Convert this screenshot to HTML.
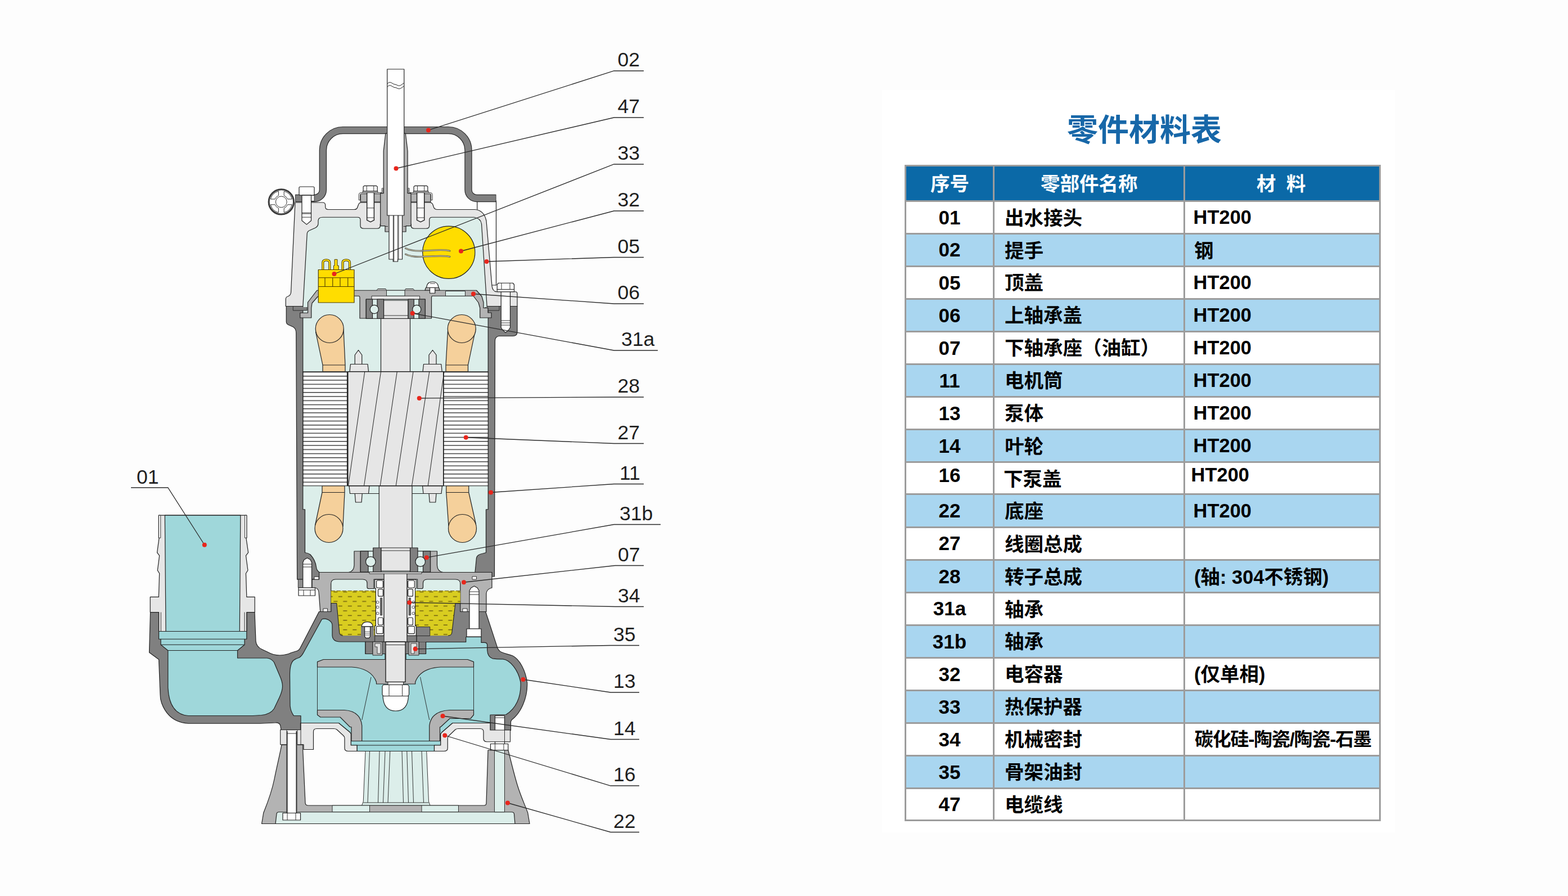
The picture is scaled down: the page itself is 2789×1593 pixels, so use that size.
<!DOCTYPE html>
<html lang="zh"><head><meta charset="utf-8"><title>零件材料表</title>
<style>

html,body{margin:0;padding:0;background:#fdfdfd}
body{width:2789px;height:1593px;position:relative;overflow:hidden;font-family:"Liberation Sans",sans-serif}
#page{position:absolute;left:0;top:0;width:2789px;height:1593px;overflow:hidden;background:#fdfdfd}
#panel{position:absolute;left:1569px;top:160px;width:912px;height:1320px;background:#fff}
#tbl .bg{position:absolute}
.cj{position:absolute;overflow:visible;font-family:"Liberation Sans","Noto Sans CJK SC",sans-serif;font-weight:bold}
.cj text{font-family:"Liberation Sans","Noto Sans CJK SC",sans-serif;font-weight:bold}
.rt{position:absolute;color:transparent;white-space:nowrap;overflow:hidden;font-weight:bold;line-height:1.2;box-sizing:content-box}
.num{position:absolute;text-align:center;font-weight:bold;font-size:35px;color:#000;white-space:nowrap}
.mat{position:absolute;font-weight:bold;font-size:34.5px;color:#000;white-space:nowrap}
#dia{position:absolute;left:0;top:0}
#dia text{font-family:"Liberation Sans",sans-serif;font-size:35.5px;fill:#1f1f1f}

</style></head><body><div id="page">
<div id="panel"></div>
<svg id="dia" width="2789" height="1593" viewBox="0 0 2789 1593">
<defs>
<pattern id="lam" x="0" y="660.75" width="10" height="7.25" patternUnits="userSpaceOnUse"><rect width="10" height="7.25" fill="#fff"/><rect width="10" height="1.4" fill="#333"/></pattern>
<pattern id="oil" x="635.8" y="1056.6" width="17" height="16.8" patternUnits="userSpaceOnUse"><rect width="17" height="16.8" fill="#d9cd20"/><rect x="0" y="3.5" width="7" height="1.4" fill="#6b5a10"/><rect x="8.5" y="11.9" width="7" height="1.4" fill="#6b5a10"/></pattern>
</defs>
<g id="pump" stroke="#222" stroke-width="1.2" stroke-linejoin="round" fill="none">
<g id="handle">
<rect x="848.75" y="357" width="33.75" height="150" fill="#fff"/>
<path d="M525,352.5 H559.4 A15,15 0 0 0 574.4,337.5 V267 A35.5,35.5 0 0 1 610,231.6 H797.5 A35.5,35.5 0 0 1 833,267 V337.5 A15,15 0 0 0 848,352.5 H882.5" stroke="#2a2a2a" stroke-width="13.4" fill="none"/>
<path d="M525.8,352.5 H559.4 A15,15 0 0 0 574.4,337.5 V267 A35.5,35.5 0 0 1 610,231.6 H797.5 A35.5,35.5 0 0 1 833,267 V337.5 A15,15 0 0 0 848,352.5 H881.7" stroke="#808080" stroke-width="11" fill="none"/>
<g id="ring">
<circle cx="500.3" cy="358.9" r="22.2" fill="#fff" stroke="#3a3a3a" stroke-width="3"/>
<path d="M511.58,363.80 L519.28,363.80 A19.6,19.6 0 0 1 505.20,377.88 L505.20,370.18 A12.3,12.3 0 0 0 511.58,363.80 Z M495.40,370.18 L495.40,377.88 A19.6,19.6 0 0 1 481.32,363.80 L489.02,363.80 A12.3,12.3 0 0 0 495.40,370.18 Z M489.02,354.00 L481.32,354.00 A19.6,19.6 0 0 1 495.40,339.92 L495.40,347.62 A12.3,12.3 0 0 0 489.02,354.00 Z M505.20,347.62 L505.20,339.92 A19.6,19.6 0 0 1 519.28,354.00 L511.58,354.00 A12.3,12.3 0 0 0 505.20,347.62 Z" fill="#fff" stroke="#333" stroke-width="1"/>
<circle cx="500.3" cy="358.9" r="9.9" fill="#fff" stroke="#333" stroke-width="1"/>
</g>
</g>

<g id="casing">
<!-- side bolt (cover->casing, right) shank drawn later -->
<!-- dark gray casing outer -->
<path fill="#808080" d="M509.25,544.5 V572 Q509.5,576 513,577.5 L521,581 Q526.75,584 526.75,592.5 L528.6,1030.1 H567.6 V1017.5 H845 V1025 H879.5 L880.5,606 Q880.5,599 887,597.5 H912 Q920,597.5 920,590 V544.5 Z"/>
<!-- inner cavity mint -->
<path fill="#dceeea" stroke="none" d="M538.75,540 H868.25 V905.75 H864.5 V982.5 L860,983.75 Q848,986 847.5,992 L845,1017.5 H568 Q563,1014 562.5,1008 Q561,996 552,986 Q548,983 542.5,982.5 V905.75 H538.75 Z"/>
<path d="M868.25,552 V905.75 H864.5 V982.5 L860,983.75 Q848,986 847.5,992 L845,1017.5 M568,1017.5 Q563,1014 562.5,1008 Q561,996 552,986 Q548,983 542.5,982.5 V905.75 H538.75 V552"/>
<path fill="#8f8f8f" d="M530.3,1030.1 H538.6 V1044.8 H530.3 Z" stroke-width="0.9"/>
<!-- gasket / step details at top flange -->
<path fill="#808080" d="M521.25,544.5 H546 V552 H521.25 Z M863,544.5 H888 V552 H863 Z" stroke-width="0.9"/>
</g>

<g id="cover">
<!-- outer silhouette of top cover 05 -->
<path fill="#e6e6e6" d="M525,360 H573.75 Q578.75,360 578.75,365 V367.5 Q578.75,372.5 583.75,372.5 H630 Q635,372.5 636,368 L637.5,364 Q638.75,360 643,360 H764 Q768.75,360 770,364 L771.5,368.5 Q773,372.5 778,372.5 H845 Q861,374 865,392.5 L875,508 Q876,518.75 884,518.75 H917 Q920,518.75 920,522 V544.5 H508.25 V532 Q508.25,528 512,527 Q517,525 517.5,520 Z"/>
<!-- inner cavity -->
<path fill="#dceeea" stroke="none" d="M574,386.25 H636 Q641,386.25 641,391 V401 Q641,406.25 647,406.25 H671 Q676.25,406.25 676.25,401 V398 H731.25 V401 Q731.25,406.25 737,406.25 H758 Q763.75,406.25 763.75,401 V391 Q763.75,386.25 769,386.25 H843 Q855,388 856.5,398 L866.25,546 H538.75 L546.25,415 Q547,411 551,409.5 L561,405 Q566,402.5 566,397 V392 Q566.5,386.25 574,386.25 Z"/>
<path d="M866.25,546 L856.5,398 Q855,388 843,386.25 H769 Q763.75,386.25 763.75,391 V401 Q763.75,406.25 758,406.25 H737 Q731.25,406.25 731.25,401 V398 M676.25,398 V401 Q676.25,406.25 671,406.25 H647 Q641,406.25 641,401 V391 Q641,386.25 636,386.25 H574 Q566.5,386.25 566,392 V397 Q566,402.5 561,405 L551,409.5 Q547,411 546.25,415 L538.75,546"/>
<!-- left corner bolt -->
<rect x="553.5" y="347.2" width="5.6" height="10.3" fill="#fff" stroke-width="0.9"/>
<rect x="532" y="332" width="27" height="15.2" rx="2" fill="#fff"/>
<path fill="#fff" d="M537,347.2 H553.5 V392.2 L545.4,399.1 L537,392.2 Z"/>
<path d="M537,378.4 H553.5 M537,380 H553.5 M537,386.2 H553.5" stroke-width="0.9"/>
<!-- gland flange plates + bolts -->
<path fill="#b3b3b3" d="M641.3,343.6 H682.2 V359.1 H641.3 Z M725.1,343.6 H766 V359.1 H725.1 Z"/>
<!-- thin lock bracket -->
<path fill="#fff" d="M638.2,355.7 V346.5 Q638.2,342.5 642,342.5 H679.3 V334.8 H682.2 V336.6 H681.2 V344.6 H642.5 Q640.6,344.6 640.6,346.8 V355.7 Z" stroke-width="0.9"/>
<path fill="#fff" d="M769.1,355.7 V346.5 Q769.1,342.5 765.3,342.5 H728 V334.8 H725.1 V336.6 H726.1 V344.6 H764.8 Q766.7,344.6 766.7,346.8 V355.7 Z" stroke-width="0.9"/>
<!-- left gland bolt -->
<path fill="#fff" d="M652.7,342.2 H665.4 V391.4 L659,394.6 L652.7,391.4 Z" stroke-width="1.5"/>
<path d="M652.7,369.8 H665.4 M652.7,387 H665.4" stroke-width="0.9"/>
<rect x="645.1" y="339.9" width="26.8" height="2.4" fill="#fff" stroke-width="0.9"/>
<path fill="#fff" d="M646.1,339.9 V332 L647.8,330.3 H669.5 L671.2,332 V339.9 Z"/>
<path d="M652.3,330.3 V339.9 M664.8,330.3 V339.9" stroke-width="0.9"/>
<!-- right gland bolt -->
<path fill="#fff" d="M741.6,342.2 H754.7 V391.4 L748.1,394.6 L741.6,391.4 Z" stroke-width="1.5"/>
<path d="M741.6,369.8 H754.7 M741.6,387 H754.7" stroke-width="0.9"/>
<rect x="735.3" y="339.9" width="26.8" height="2.4" fill="#fff" stroke-width="0.9"/>
<path fill="#fff" d="M736.1,339.9 V332 L737.8,330.3 H759.1 L760.8,332 V339.9 Z"/>
<path d="M742.4,330.3 V339.9 M754.6,330.3 V339.9" stroke-width="0.9"/>
<!-- gland body -->
<path fill="#b3b3b3" d="M685.8,237.2 L682.2,268.5 V343.6 H676.7 V401.7 H685 V412 H722 V401.7 H731 V343.6 H725.1 V268.5 L721.3,237.2 Z"/>
<path d="M685,402.5 H690 M717.5,402.5 H722.5" stroke-width="0.9"/>
</g>

<g id="cable">
<!-- inner conductors -->
<path fill="#fff" d="M692,382 H715.5 V461 H707.5 V465 H699.25 V461 H692 Z"/>
<path d="M699.4,382 V461 M700.7,382 V465 M707.6,382 V465 M709,382 V461" stroke-width="0.9"/>
<rect x="688.75" y="123" width="30" height="260" fill="#fff"/>
<path d="M688.75,149 q4,-4.5 8,-1.5 t8,3 q5,3.5 9,0.5 t5,-3.5 M688.75,154.5 q4,-4.5 8,-1.5 t8,3 q5,3.5 9,0.5 t5,-3.5" stroke-width="1"/>
</g>

<g id="motor">
<!-- coils top -->
<path fill="#f5d09b" d="M561.5,590 L574,649 V660.75 H614 V649 L611,585 Z"/>
<path d="M574,649 H614" stroke-width="1"/>
<circle cx="586.25" cy="584.5" r="25" fill="#f5d09b"/>
<path fill="#f5d09b" d="M796.5,588 L793,649 V660.75 H832.5 V649 L846,585 Z"/>
<path d="M793,649 H832.5" stroke-width="1"/>
<circle cx="821.25" cy="584.5" r="25" fill="#f5d09b"/>
<!-- coils bottom -->
<path fill="#f5d09b" d="M573,863.75 H613 V875.5 L610,936 L560.5,934 L573,875.5 Z"/>
<path d="M573,875.5 H613" stroke-width="1"/>
<circle cx="585" cy="939.5" r="25" fill="#f5d09b"/>
<path fill="#f5d09b" d="M793.75,863.75 H833.75 V875.5 L846.5,932 L798,936 L793.75,875.5 Z"/>
<path d="M793.75,875.5 H833.75" stroke-width="1"/>
<circle cx="822.5" cy="939.5" r="25" fill="#f5d09b"/>
<!-- stator laminations -->
<rect x="539" y="660.75" width="78.5" height="203" fill="url(#lam)"/>
<rect x="789" y="660.75" width="79.25" height="203" fill="url(#lam)"/>
<!-- shaft upper / lower -->
<rect x="677.5" y="566" width="52" height="95" fill="#e6e6e6"/>
<rect x="674.25" y="863.75" width="58.75" height="111" fill="#e6e6e6"/>
<!-- end rings + pins top -->
<path fill="#e6e6e6" d="M631.25,647.5 V631 L637.5,622.5 L643.75,631 V647.5 Z M763,647.5 V631 L769.5,622.5 L776,631 V647.5 Z"/>
<path fill="#e6e6e6" d="M622,660.75 L623.5,647.5 H654 L655.5,660.75 Z M752,660.75 L753.5,647.5 H784.75 L786.25,660.75 Z"/>
<!-- end rings + pins bottom -->
<path fill="#e6e6e6" d="M631.25,877.5 H644.25 L643,893 H632.5 Z M763,877.5 H776 L774.75,893 H764.25 Z"/>
<path fill="#e6e6e6" d="M621,863.75 H657 L655.5,877.5 H622.5 Z M751.5,863.75 H786.5 L785,877.5 H753 Z"/>
<path d="M655.5,877.5 H674.25 M733,877.5 H753" stroke-width="1"/>
<!-- rotor -->
<rect x="618.75" y="660.75" width="170" height="203" fill="#e6e6e6" stroke-width="1.5"/>
<path d="M648.75,660.75 L619.5,863.75 M677.5,660.75 L647.5,863.75 M706.25,660.75 L676.25,863.75 M735,660.75 L704.25,863.75 M763.75,660.75 L732.5,863.75 M790,660.75 L761.25,863.75" stroke-width="1"/>
</g>

<g id="upper">
<!-- capacitor 32 -->
<circle cx="798.25" cy="448.75" r="46.6" fill="#ffdd00"/>
<path d="M721.5,441.5 C730,446 740,446.6 752,446 S790,443 800,446 M721.5,452 C730,456.5 740,457 752,456.4 S790,453.4 800,456.4" stroke="#444" stroke-width="2.8" stroke-linecap="round"/>
<path d="M721.5,441.5 C730,446 740,446.6 752,446 S790,443 800,446 M721.5,452 C730,456.5 740,457 752,456.4 S790,453.4 800,456.4" stroke="#d9d3b0" stroke-width="1.2" stroke-linecap="round"/>
<!-- 06 upper bearing cover plate -->
<path fill="#b3b3b3" d="M563.75,516.25 H847.5 L857,527 L860,537.5 V547.5 H868 V556 H874 V565 H853.75 V547.5 L851,538 L842,526.25 H769 Q767.5,526.25 767.5,530 V566 H640 V530 Q640,526.25 638,526.25 H571 L565,527.5 L555,539 L553.75,547.5 V565 H533.75 V556.25 H547.5 V537.5 Z"/>
<!-- holes in plate -->
<rect x="687.5" y="516.25" width="32.5" height="10" fill="#dceeea" stroke-width="0.9"/>
<rect x="792.5" y="517.5" width="35" height="8.75" fill="#dceeea" stroke-width="0.9"/>
<path fill="#b3b3b3" d="M670,516.25 L672,513.5 H686 L687.5,516.25 M720,516.25 L721.5,513.5 H735 L737,516.25" stroke-width="0.9"/>
<!-- screw on plate -->
<path fill="#b3b3b3" d="M756,516.25 Q757,509 762,509 H776 Q781,509 782,516.25 Z"/>
<rect x="764.5" y="511.25" width="9.25" height="10" fill="#fff"/>
<path fill="#fff" d="M758.75,511.25 Q759.5,501 769.4,501 Q779.3,501 780,511.25 Z"/>
<path d="M765,504 H774" stroke-width="0.9"/>
<!-- thermal protector 33 -->
<path d="M574.3,479.5 V467 Q574.3,462.3 580.3,462.3 Q586.3,462.3 586.3,467 V479.5 M609.5,479.5 V467 Q609.5,462.3 615.7,462.3 Q622,462.3 622,467 V479.5" fill="none" stroke="#4a3a00" stroke-width="4.2"/>
<path d="M574.3,479.5 V467 Q574.3,462.3 580.3,462.3 Q586.3,462.3 586.3,467 V479.5 M609.5,479.5 V467 Q609.5,462.3 615.7,462.3 Q622,462.3 622,467 V479.5" fill="none" stroke="#ffdd00" stroke-width="2.2"/>
<path fill="#ffdd00" d="M593.5,479.5 V472.2 H595.1 V461.3 H600 V472.2 H602.3 V479.5 Z" stroke="#4a3a00" stroke-width="1"/>
<rect x="566.25" y="479.5" width="63.75" height="58.5" fill="#ffdd00" stroke="#4a3a00"/>
<path d="M566.25,493.75 H630 M566.25,509.5 H630 M578,493.75 V509.5 M591.75,493.75 V509.5 M605,493.75 V509.5 M618.75,493.75 V509.5" stroke="#4a3a00" stroke-width="1.1"/>
<!-- bearing -->
<rect x="651.25" y="532" width="105" height="34.25" fill="#dceeea"/>
<path fill="#e6e6e6" d="M661,526.25 H746.5 V532 H661 Z" stroke-width="0.9"/>
<rect x="682.5" y="534" width="43.5" height="32.25" fill="#e6e6e6"/>
<path fill="#808080" d="M651.25,532 H662.5 V566.25 H651.25 Z M671,532 H682.5 V566.25 H671 Z M726,532 H736.25 V566.25 H726 Z M745,532 H756.25 V566.25 H745 Z"/>
<circle cx="665.75" cy="550" r="7.6" fill="#dceeea"/>
<circle cx="741.25" cy="550" r="7.6" fill="#dceeea"/>
<path d="M682.5,561 H726" stroke-width="0.9"/>
<!-- right side bolt -->
<path fill="#fff" d="M891.25,518.75 H907.5 V582.5 L904,587.5 L899.25,591.25 L894.75,587.5 L891.25,582.5 Z"/>
<path d="M891.25,570 H907.5 M891.25,574 H907.5 M891.25,578 H907.5" stroke-width="0.9"/>
<rect x="884.25" y="514.5" width="30.25" height="4.25" fill="#fff"/>
<path fill="#fff" d="M884.25,514.5 V506 L886.5,503.25 H912.25 L914.5,506 V514.5 Z"/>
<path d="M892,503.25 V514.5 M907,503.25 V514.5" stroke-width="0.9"/>
</g>

<g id="body">
<!-- pump body 13 + elbow, dark gray silhouette -->
<path fill="#808080" d="M567.5,1087.5 H585 V1072.5 H822.5 V1087.5 H863.75 L884.9,1151.9 Q887.5,1157.5 892,1159.5 C900,1163 905,1163 912,1166 C924,1172 935,1192 937.7,1214 C938.5,1242 926,1268 910,1280 L908.5,1283 V1298.5 H872 V1285.5 H534.5 V1297.5 H500 L498.75,1290 Q497,1284.5 490,1285 L462.5,1286.25 H335 Q300,1284 287.5,1250 Q285,1243 285,1235 L282.5,1172.5 L265.5,1160 L267.5,1088.75 H453 L455,1140 Q456,1150 466,1154.5 L475,1158.75 Q486,1165 497.5,1165 Q509,1165 518,1160.5 L526,1158 Q531.5,1157 534,1152 Z"/>
<!-- elbow interior -->
<path fill="#9fd7da" d="M282.5,1088.75 H438.75 V1136.25 H435 V1146.25 L422.5,1156.5 V1170 H475 Q483,1171 487.5,1177.5 L497,1200 Q502.5,1212 502.5,1220 Q502.5,1228 497,1240 L487.5,1260 Q481,1270 465,1271.5 L450,1272.5 H335 Q301,1270 298.75,1222.5 V1156.5 L286,1146.25 V1136.25 H282.5 Z"/>
<path d="M282.5,1122.5 H438.75 M286,1136.25 H435 M286,1146.25 H435 M298.75,1156.5 H422.5" stroke-width="1"/>
<!-- body interior water -->
<path fill="#9fd7da" d="M572.5,1101 Q580,1098.5 587,1104 Q591,1107 591,1112 V1130 Q592,1141 605,1141 H650 V1162.5 H757.5 V1141.5 H828.75 V1132.5 H856 V1142.4 H861.5 Q866.7,1142.4 866.7,1147 V1156 Q867.5,1168 876,1170.8 Q884,1172 894.4,1171.8 C907,1173 922,1191 926,1213 C927.5,1240 917,1260 900,1270.5 L872,1271 V1285.5 H805 L786,1302 L783.75,1305 V1325 H772.5 V1335.5 H635 V1325 H624.25 V1305 L622.5,1302 L602.5,1285.5 H535 V1272.5 H522.5 Q517,1265 516,1255 L515.5,1200 Q515.5,1180 522,1174 Q527,1170.5 532.5,1169 Q537,1166 540,1160 Z"/>
<path d="M624.25,1317.5 H783.75 M635,1325 H772.5" stroke-width="1"/>
<!-- seal housing dark gray -->
<path fill="#808080" d="M650,1141 H757.5 V1162.5 H745 V1141 H742 V1115 H762.5 V1130 H757.5 V1141 M650,1141 V1162.5 H663 V1141 Z"/>
<path fill="#808080" d="M742,1115 H762.5 V1141 H742 Z" stroke="none"/>
<!-- lip seal 35 -->
<path fill="#b3b3b3" d="M663,1141 H680 V1165 H663 Z M727,1141 H745 V1165 H727 Z" stroke-width="0.9"/>
<path fill="#e6e6e6" d="M667,1144 H677 V1162 H671 V1150 H667 Z M731,1144 H741 V1150 H737 V1162 H731 Z" stroke-width="0.8"/>
<!-- right bolt block -->
<rect x="880.5" y="1272.5" width="17" height="50" fill="#fff"/>
<path d="M880.5,1276 H897.5" stroke-width="0.9"/>
</g>

<g id="lower">
<!-- 07 lower bearing seat (medium gray) -->
<path fill="#b3b3b3" d="M567.6,1017.5 H875 V1045 Q866,1047 865,1055 V1087.5 H818.75 V1072.5 H588.75 V1087.5 H569.7 L567.3,1056 Q567,1046 561,1045 H555 V1030.1 H567.6 Z"/>
<!-- bearing housing -->
<path fill="#b3b3b3" d="M630,980 H777.5 V1005 Q778,1016 788,1017.5 H620 Q629.5,1016 630,1005 Z"/>
<!-- oil chamber cavity: mint top + oil -->
<path fill="#dceeea" d="M588.75,1072.5 V1038 Q588.75,1030 597,1030 H645 Q653,1030 653,1037 V1044 Q653,1046.5 656,1046.5 H665 V1030 H742.5 V1046.5 H750 Q752.5,1046.5 752.5,1044 V1037 Q752.5,1030 760,1030 H810 Q818.75,1030 818.75,1038 V1072.5 Z"/>
<path fill="url(#oil)" stroke="none" d="M588.75,1050.5 H818.75 V1072.5 H810 L803.75,1125 Q803,1130 797,1130 H610 Q604.5,1130 603.75,1125 L598.75,1072.5 H588.75 Z"/>
<path d="M588.75,1050.5 H667 M741,1050.5 H818.75" stroke="#6b5a10" stroke-dasharray="7 3" stroke-width="1.2"/>
<path d="M588.75,1072.5 H598.75 L603.75,1125 Q604.5,1130 610,1130 M818.75,1072.5 H810 L803.75,1125 Q803,1130 797,1130" stroke-width="1.1"/>
<!-- dark boss right & bottom under seal -->
<path fill="#808080" d="M740.8,1114.5 H764.7 V1130.5 H740.8 Z M666.7,1130 H740.8 V1141 H666.7 Z" stroke-width="0.9"/>
<!-- plug screw -->
<path fill="#808080" stroke="none" d="M642,1113 H665 V1131 H642 Z"/>
<path fill="#fff" d="M648.6,1113.9 H658.5 V1131.4 L656.5,1134.3 H650.6 L648.6,1131.4 Z"/>
<path d="M648.6,1123 H658.5 M648.6,1126 H658.5 M648.6,1129 H658.5" stroke-width="0.7"/>
<path fill="#fff" d="M643.3,1113.9 Q644,1105.7 653.2,1105.7 Q662.5,1105.7 663.2,1113.9 Z"/>
<!-- mechanical seal 34 -->
<g id="mseal">
<path fill="#fff" d="M666.7,1030.4 H683 V1130.2 H666.7 V1112.7 H668.4 V1046.2 H666.7 Z"/>
<rect x="669.6" y="1032" width="11.7" height="13" rx="2" fill="#fff"/>
<rect x="672.5" y="1047.4" width="8.8" height="12.8" rx="2" fill="#fff"/>
<rect x="672.5" y="1098" width="8.8" height="13" rx="2" fill="#fff"/>
<rect x="669.6" y="1113.3" width="11.7" height="13.4" rx="2" fill="#fff"/>
<rect x="676.3" y="1063" width="3.6" height="31" fill="#666" stroke-width="0.6"/>
<circle cx="671.6" cy="1070.7" r="2.3" fill="#fff" stroke-width="0.8"/><circle cx="671.6" cy="1079.5" r="2.3" fill="#fff" stroke-width="0.8"/><circle cx="671.6" cy="1090.5" r="2.3" fill="#fff" stroke-width="0.8"/>
<path fill="#fff" d="M740.2,1030.4 H723.9 V1130.2 H740.2 V1112.7 H738.5 V1046.2 H740.2 Z"/>
<rect x="725.6" y="1032" width="11.7" height="13" rx="2" fill="#fff"/>
<rect x="725.6" y="1047.4" width="8.8" height="12.8" rx="2" fill="#fff"/>
<rect x="725.6" y="1098" width="8.8" height="13" rx="2" fill="#fff"/>
<rect x="725.6" y="1113.3" width="11.7" height="13.4" rx="2" fill="#fff"/>
<rect x="727" y="1063" width="3.6" height="31" fill="#666" stroke-width="0.6"/>
<circle cx="735.3" cy="1070.7" r="2.3" fill="#fff" stroke-width="0.8"/><circle cx="735.3" cy="1079.5" r="2.3" fill="#fff" stroke-width="0.8"/><circle cx="735.3" cy="1090.5" r="2.3" fill="#fff" stroke-width="0.8"/>
</g>
<!-- lower shaft -->
<rect x="683" y="1017" width="40.9" height="124" fill="#e6e6e6"/>
<!-- lower bearing -->
<rect x="641.25" y="980" width="124.25" height="37" fill="#dceeea"/>
<path fill="#808080" d="M641.25,980 H655 V1017 H641.25 Z M663.75,974 H678 V1017 H663.75 Z M729.5,974 H743 V1017 H729.5 Z M752.5,980 H765.5 V1017 H752.5 Z"/>
<circle cx="659.3" cy="998.5" r="8.8" fill="#dceeea"/>
<circle cx="747.7" cy="998.5" r="8.8" fill="#dceeea"/>
<rect x="678" y="974" width="51.5" height="41" fill="#e6e6e6"/>
<path d="M678,979 H729.5 M657,1017 H750 V1020 H657 Z" stroke-width="0.9" fill="#e6e6e6"/>
<!-- little o-ring grooves -->
<rect x="559" y="1025.3" width="8" height="4.8" fill="#fff" stroke-width="0.9"/>
<rect x="840" y="1025" width="7.5" height="5" fill="#fff" stroke-width="0.9"/>
<rect x="575" y="1082" width="7.5" height="5.5" fill="#fff" stroke-width="0.9"/>
<rect x="823" y="1082" width="8" height="5.5" fill="#fff" stroke-width="0.9"/>
<!-- left casing bolt -->
<path fill="#fff" d="M538.75,1045 V1000 L541,995 L546.5,992 L552,995 L554.5,1000 V1045 Z"/>
<path d="M538.75,1003 H554.5 M538.75,1008 H554.5" stroke-width="0.9"/>
<path fill="#fff" d="M531,1045 H560.5 V1059 H531 Z M531,1049 H560.5" />
<path d="M540,1049 V1059 M552,1049 V1059" stroke-width="0.9"/>
<!-- right long screw -->
<path fill="#fff" d="M835,1118 V1050 L838,1045 L843.5,1042 L849,1045 L852,1050 V1118 Z"/>
<path d="M835,1052 H852 M835,1057 H852" stroke-width="0.9"/>
<rect x="830" y="1118" width="26" height="14" fill="#fff"/>
</g>

<g id="outlet">
<!-- connector 01 light gray -->
<path fill="#e6e6e6" d="M282.3,916.2 H438.8 V956.3 H437.8 L441.6,982.4 L437.4,987.9 L440.9,1014 L437.4,1019.5 L438.8,1061.4 H453.2 V1088.5 H438.75 V1122.5 H282.5 V1088.5 H267.2 V1061.4 H282.3 L283.6,1019.5 L280.2,1014 L283.6,987.9 L279.5,982.4 L283,956.3 H282.3 Z"/>
<path fill="#fff" d="M282.3,916.2 H285.7 V956.3 H282.3 Z M435.4,916.2 H438.8 V956.3 H435.4 Z" stroke-width="0.9"/>
<path d="M286.25,1088.5 V1122.5 M435,1088.5 V1122.5" stroke-width="0.9"/>
<!-- bore teal -->
<path fill="#9fd7da" d="M293.3,916.2 H427.8 L426.25,1122.5 H295 Z"/>
</g>

<g id="impeller">
<!-- impeller 14 -->
<path fill="#b3b3b3" d="M575.3,1172.5 H685 V1162.5 H722 V1172.5 H831.7 L842.5,1176.6 V1186 H783.7 Q748,1188 738.7,1212.5 V1216 H669.5 V1212.5 Q660,1188 625.5,1186 H564.5 V1176.6 Z"/>
<path fill="#b3b3b3" d="M564.5,1262.5 H612.5 Q641,1264 643.75,1290 V1317.5 H625 V1292.5 H622.5 L605,1275 H570 L564.5,1271 Z"/>
<path fill="#b3b3b3" d="M842.5,1262.5 H800 Q767,1264 763.75,1290 V1317.5 H782.5 V1292.5 H783.75 L800,1277.5 H837 L842.5,1271 Z"/>
<path d="M564.5,1186 V1262.5 M842.5,1186 V1262.5 M660,1203.75 L643.75,1280 M747.5,1203.75 L763.75,1280" stroke-width="0.9"/>
<!-- shaft end through impeller -->
<rect x="686" y="1141" width="35" height="71.5" fill="#e6e6e6" stroke-width="1.4"/>
<path d="M686,1146.5 H721" stroke-width="0.9"/>
<!-- washer + nut + dome -->
<path fill="#e6e6e6" d="M690,1212.5 H717.5 V1217.5 H690 Z" stroke-width="0.9"/>
<path fill="#fff" d="M681,1237 Q682,1264 703.75,1264 Q725.5,1264 726.5,1237 Z"/>
<path fill="#fff" d="M680,1220 L682,1217.5 H725.5 L727.5,1220 V1235 L725.5,1237.5 H682 L680,1235 Z"/>
<path d="M692,1217.5 V1237.5 M715.5,1217.5 V1237.5" stroke-width="0.9"/>
</g>

<g id="suction">
<!-- suction cover 16 light gray -->
<path fill="#e6e6e6" d="M535,1285.5 H602.5 L622.5,1302 L624.25,1305 V1325 H635 V1335.5 H619 Q613,1335.5 613,1330 V1313 Q613,1310 611,1308 L599,1297 Q597,1295.5 594,1295.5 H563 Q557.5,1295.5 557.5,1301 V1332.5 H540 V1323.75 H498.75 V1297.5 H535 Z"/>
<path fill="#e6e6e6" d="M872,1285.5 H805 L786,1302 L783.75,1305 V1325 H772.5 V1335.5 H790 Q796.25,1335.5 796.25,1330 V1313 Q796.25,1310 798.5,1308 L810,1297 Q812,1295.5 815,1295.5 H854 Q860,1295.5 860,1301 V1313 Q860,1318.75 866,1318.75 H907.5 V1298 H872 Z"/>
<!-- inlet cone (mint) with ribs -->
<path fill="#dceeea" d="M650,1335.5 H758.75 L762.5,1425 L765,1432 H643.5 L646.25,1425 Z" stroke-width="0.9"/>
<path d="M657.5,1335.5 L654,1427 M675,1335.5 L672.5,1427 M685,1335.5 L681.5,1427 M693.75,1335.5 L690,1427 M715,1335.5 L717.5,1427 M723.75,1335.5 L726.5,1427 M732.5,1335.5 L735.5,1427 M750,1335.5 L753.5,1427 M646.25,1427 H762.5" stroke-width="0.9"/>
</g>

<g id="base">
<!-- base 22 medium gray (evenodd hole for hollow) -->
<path fill="#b3b3b3" fill-rule="evenodd" stroke="none" d="M501,1324.2 H538.75 V1335 H868 V1333.75 H903.9 C908,1350 914,1375 920,1395 S934,1432 938.75,1445 L942,1464.5 H465.5 L468.75,1445 C474,1432 483,1410 488,1385 S497,1345 501,1324.2 Z M538.75,1335 L543,1427.5 Q543.5,1432 548,1432 H861 Q865,1432 865,1427.5 L868,1335 Z"/>
<path d="M538.75,1335 V1324.2 H501 C497,1345 493,1360 488,1385 S474,1432 468.75,1445 L465.5,1464.5 H942 L938.75,1445 C934,1432 926,1415 920,1395 S908,1350 903.9,1333.75 H868 V1335"/>
<path d="M538.75,1335 L543,1427.5 Q543.5,1432 548,1432 H643.5 M765,1432 H861 Q865,1432 865,1427.5 L868,1335"/>
<!-- bottom plate segments: mint gaps -->
<path fill="#dceeea" d="M591,1432 H657.5 V1443.75 H591 Z M750,1432 H815.5 V1443.75 H750 Z" stroke-width="0.9"/>
<path d="M657.5,1432 H750" stroke-width="0.9"/>
<path fill="#dceeea" d="M490,1464.5 L492,1447 Q492.5,1443.75 496,1443.75 H910 Q914,1443.75 914.5,1447 L916,1464.5 Z"/>
<!-- right vertical mint band -->
<path fill="#dceeea" d="M879.5,1333.75 H897.5 V1443.75 H879.5 Z" stroke-width="0.9"/>
<!-- left long bolt -->
<rect x="510" y="1300" width="18.75" height="145" fill="#fff" stroke="none"/>
<path d="M510.5,1300 V1445 M527.5,1300 V1445" stroke="#333" stroke-width="2.2"/>
<path d="M510,1304 H528.75" stroke-width="0.9"/>
<path fill="#e6e6e6" d="M498.75,1297.5 H510 V1323.75 H498.75 Z M528.75,1297.5 H535 V1323.75 H528.75 Z" stroke-width="0.9"/>
<path fill="#fff" d="M503,1445.5 H534.5 V1458 H503 Z"/>
<path d="M511,1445.5 V1458 M526,1445.5 V1458" stroke-width="0.9"/>
<!-- right nut -->
<path fill="#fff" d="M872.5,1322.5 H903.75 V1333.75 H872.5 Z"/>
<path d="M880.5,1322.5 V1333.75 M896,1322.5 V1333.75" stroke-width="0.9"/>
<path fill="#e6e6e6" d="M897.5,1298 H907.5 V1318.75 H897.5 Z" stroke-width="0.9"/>
</g>

</g>
<g id="lbl">
<g stroke="#2a2a2a" stroke-width="1.3" fill="none">
<path d="M762,231.5 L1092,126 H1145"/>
<path d="M704.5,299.5 L1092,209 H1145"/>
<path d="M594.5,487 L1092,292 H1145"/>
<path d="M820,446.5 L1092,375 H1145"/>
<path d="M865.5,465 L1092,457.5 H1145"/>
<path d="M842,522.5 L1092,540 H1145"/>
<path d="M733.75,557 L1092,623 H1170"/>
<path d="M745.75,708 L1092,706 H1145"/>
<path d="M828.75,777.75 L1092,788.5 H1145"/>
<path d="M873,875.5 L1092,860.5 H1145"/>
<path d="M758.75,991.25 L1092,932.5 H1175"/>
<path d="M825,1035.25 L1094,1005.5 H1145"/>
<path d="M728.25,1071.25 L1094,1078.5 H1145"/>
<path d="M738.75,1153.75 L1086,1147.5 H1137"/>
<path d="M930.5,1208 L1086,1231 H1137"/>
<path d="M787.5,1273 L1086,1314.5 H1137"/>
<path d="M791.25,1307.5 L1086,1397 H1137"/>
<path d="M903,1427.5 L1086,1479.5 H1137"/>
<path d="M363.75,968.75 L298.75,867 H233"/>
</g>
<g fill="#e8261c">
<circle cx="762" cy="231.5" r="4"/>
<circle cx="704.5" cy="299.5" r="4"/>
<circle cx="594.5" cy="487" r="4"/>
<circle cx="820" cy="446.5" r="4"/>
<circle cx="865.5" cy="465" r="4"/>
<circle cx="842" cy="522.5" r="4"/>
<circle cx="733.75" cy="557" r="4"/>
<circle cx="745.75" cy="708" r="4"/>
<circle cx="828.75" cy="777.75" r="4"/>
<circle cx="873" cy="875.5" r="4"/>
<circle cx="758.75" cy="991.25" r="4"/>
<circle cx="825" cy="1035.25" r="4"/>
<circle cx="728.25" cy="1071.25" r="4"/>
<circle cx="738.75" cy="1153.75" r="4"/>
<circle cx="930.5" cy="1208" r="4"/>
<circle cx="787.5" cy="1273" r="4"/>
<circle cx="791.25" cy="1307.5" r="4"/>
<circle cx="903" cy="1427.5" r="4"/>
<circle cx="363.75" cy="968.75" r="4"/>
</g>
<text x="1098.5" y="118">02</text>
<text x="1098.5" y="201">47</text>
<text x="1098.5" y="284">33</text>
<text x="1098.5" y="367">32</text>
<text x="1098.5" y="449.5">05</text>
<text x="1098.5" y="532">06</text>
<text x="1105" y="615">31a</text>
<text x="1098.5" y="698">28</text>
<text x="1098.5" y="780.5">27</text>
<text x="1102" y="852.5">11</text>
<text x="1102" y="924.5">31b</text>
<text x="1099" y="997.5">07</text>
<text x="1099" y="1070.5">34</text>
<text x="1091" y="1139.5">35</text>
<text x="1091" y="1223">13</text>
<text x="1091" y="1306.5">14</text>
<text x="1091" y="1389">16</text>
<text x="1091" y="1471.5">22</text>
<text x="243" y="859.5">01</text>
</g>
</svg>

<h1 class="rt" style="left:1860px;top:195px;width:360px;height:66px;font-size:55px;margin:0;text-align:center">零件材料表</h1><svg class="cj " role="img" aria-label="零件材料表" style="left:1898.00px;top:194.50px" width="279.0" height="71.5" fill="#1767a8"><text x="0" y="55" font-size="55">零件材料表</text></svg>
<div id="tbl">
<div class="bg" style="left:1609px;top:293px;width:846.5px;height:1167px;background:#9c9c9c"></div>
<div class="bg" style="left:1612px;top:296px;width:154px;height:60px;background:#0b69a7"></div>
<div class="bg" style="left:1769px;top:296px;width:335.5px;height:60px;background:#0b69a7"></div>
<div class="bg" style="left:2107.5px;top:296px;width:345px;height:60px;background:#0b69a7"></div>
<div class="bg" style="left:1612px;top:359px;width:154px;height:55px;background:#fff"></div>
<div class="bg" style="left:1769px;top:359px;width:335.5px;height:55px;background:#fff"></div>
<div class="bg" style="left:2107.5px;top:359px;width:345px;height:55px;background:#fff"></div>
<div class="bg" style="left:1612px;top:417px;width:154px;height:54.5px;background:#a9d6f0"></div>
<div class="bg" style="left:1769px;top:417px;width:335.5px;height:54.5px;background:#a9d6f0"></div>
<div class="bg" style="left:2107.5px;top:417px;width:345px;height:54.5px;background:#a9d6f0"></div>
<div class="bg" style="left:1612px;top:474.5px;width:154px;height:55px;background:#fff"></div>
<div class="bg" style="left:1769px;top:474.5px;width:335.5px;height:55px;background:#fff"></div>
<div class="bg" style="left:2107.5px;top:474.5px;width:345px;height:55px;background:#fff"></div>
<div class="bg" style="left:1612px;top:532.5px;width:154px;height:55px;background:#a9d6f0"></div>
<div class="bg" style="left:1769px;top:532.5px;width:335.5px;height:55px;background:#a9d6f0"></div>
<div class="bg" style="left:2107.5px;top:532.5px;width:345px;height:55px;background:#a9d6f0"></div>
<div class="bg" style="left:1612px;top:590.5px;width:154px;height:55px;background:#fff"></div>
<div class="bg" style="left:1769px;top:590.5px;width:335.5px;height:55px;background:#fff"></div>
<div class="bg" style="left:2107.5px;top:590.5px;width:345px;height:55px;background:#fff"></div>
<div class="bg" style="left:1612px;top:648.5px;width:154px;height:55px;background:#a9d6f0"></div>
<div class="bg" style="left:1769px;top:648.5px;width:335.5px;height:55px;background:#a9d6f0"></div>
<div class="bg" style="left:2107.5px;top:648.5px;width:345px;height:55px;background:#a9d6f0"></div>
<div class="bg" style="left:1612px;top:706.5px;width:154px;height:55px;background:#fff"></div>
<div class="bg" style="left:1769px;top:706.5px;width:335.5px;height:55px;background:#fff"></div>
<div class="bg" style="left:2107.5px;top:706.5px;width:345px;height:55px;background:#fff"></div>
<div class="bg" style="left:1612px;top:764.5px;width:154px;height:55.5px;background:#a9d6f0"></div>
<div class="bg" style="left:1769px;top:764.5px;width:335.5px;height:55.5px;background:#a9d6f0"></div>
<div class="bg" style="left:2107.5px;top:764.5px;width:345px;height:55.5px;background:#a9d6f0"></div>
<div class="bg" style="left:1612px;top:823px;width:154px;height:53.5px;background:#fff"></div>
<div class="bg" style="left:1769px;top:823px;width:335.5px;height:53.5px;background:#fff"></div>
<div class="bg" style="left:2107.5px;top:823px;width:345px;height:53.5px;background:#fff"></div>
<div class="bg" style="left:1612px;top:879.5px;width:154px;height:56.5px;background:#a9d6f0"></div>
<div class="bg" style="left:1769px;top:879.5px;width:335.5px;height:56.5px;background:#a9d6f0"></div>
<div class="bg" style="left:2107.5px;top:879.5px;width:345px;height:56.5px;background:#a9d6f0"></div>
<div class="bg" style="left:1612px;top:939px;width:154px;height:54.5px;background:#fff"></div>
<div class="bg" style="left:1769px;top:939px;width:335.5px;height:54.5px;background:#fff"></div>
<div class="bg" style="left:2107.5px;top:939px;width:345px;height:54.5px;background:#fff"></div>
<div class="bg" style="left:1612px;top:996.5px;width:154px;height:55.5px;background:#a9d6f0"></div>
<div class="bg" style="left:1769px;top:996.5px;width:335.5px;height:55.5px;background:#a9d6f0"></div>
<div class="bg" style="left:2107.5px;top:996.5px;width:345px;height:55.5px;background:#a9d6f0"></div>
<div class="bg" style="left:1612px;top:1055px;width:154px;height:54.5px;background:#fff"></div>
<div class="bg" style="left:1769px;top:1055px;width:335.5px;height:54.5px;background:#fff"></div>
<div class="bg" style="left:2107.5px;top:1055px;width:345px;height:54.5px;background:#fff"></div>
<div class="bg" style="left:1612px;top:1112.5px;width:154px;height:55px;background:#a9d6f0"></div>
<div class="bg" style="left:1769px;top:1112.5px;width:335.5px;height:55px;background:#a9d6f0"></div>
<div class="bg" style="left:2107.5px;top:1112.5px;width:345px;height:55px;background:#a9d6f0"></div>
<div class="bg" style="left:1612px;top:1170.5px;width:154px;height:55px;background:#fff"></div>
<div class="bg" style="left:1769px;top:1170.5px;width:335.5px;height:55px;background:#fff"></div>
<div class="bg" style="left:2107.5px;top:1170.5px;width:345px;height:55px;background:#fff"></div>
<div class="bg" style="left:1612px;top:1228.5px;width:154px;height:55px;background:#a9d6f0"></div>
<div class="bg" style="left:1769px;top:1228.5px;width:335.5px;height:55px;background:#a9d6f0"></div>
<div class="bg" style="left:2107.5px;top:1228.5px;width:345px;height:55px;background:#a9d6f0"></div>
<div class="bg" style="left:1612px;top:1286.5px;width:154px;height:55px;background:#fff"></div>
<div class="bg" style="left:1769px;top:1286.5px;width:335.5px;height:55px;background:#fff"></div>
<div class="bg" style="left:2107.5px;top:1286.5px;width:345px;height:55px;background:#fff"></div>
<div class="bg" style="left:1612px;top:1344.5px;width:154px;height:55px;background:#a9d6f0"></div>
<div class="bg" style="left:1769px;top:1344.5px;width:335.5px;height:55px;background:#a9d6f0"></div>
<div class="bg" style="left:2107.5px;top:1344.5px;width:345px;height:55px;background:#a9d6f0"></div>
<div class="bg" style="left:1612px;top:1402.5px;width:154px;height:54.5px;background:#fff"></div>
<div class="bg" style="left:1769px;top:1402.5px;width:335.5px;height:54.5px;background:#fff"></div>
<div class="bg" style="left:2107.5px;top:1402.5px;width:345px;height:54.5px;background:#fff"></div>
<span class="rt" style="left:1612px;top:296px;width:154px;height:60px;text-align:center;font-size:34.5px">序号</span>
<svg class="cj " role="img" aria-label="序号" style="left:1654.50px;top:304.44px" width="73.0" height="44.9" fill="#fff"><text x="0" y="34.5" font-size="34.5">序号</text></svg>
<span class="rt" style="left:1769px;top:296px;width:335.5px;height:60px;text-align:center;font-size:34.5px">零部件名称</span>
<svg class="cj " role="img" aria-label="零部件名称" style="left:1850.50px;top:304.44px" width="176.5" height="44.9" fill="#fff"><text x="0" y="34.5" font-size="34.5">零部件名称</text></svg>
<span class="rt" style="left:2107.5px;top:296px;width:345px;height:60px;text-align:center;font-size:34.5px">材 料</span>
<svg class="cj " role="img" aria-label="材" style="left:2234.50px;top:304.44px" width="38.5" height="44.9" fill="#fff"><text x="0" y="34.5" font-size="34.5">材</text></svg>
<svg class="cj " role="img" aria-label="料" style="left:2287.50px;top:304.44px" width="38.5" height="44.9" fill="#fff"><text x="0" y="34.5" font-size="34.5">料</text></svg>
<span class="num" style="left:1612px;top:359px;width:154px;height:55px;line-height:55px">01</span>
<span class="rt" style="left:1769px;top:359px;width:318.5px;height:55px;font-size:34.5px;padding-left:17px">出水接头</span>
<svg class="cj " role="img" aria-label="出水接头" style="left:1787.00px;top:364.94px" width="142.0" height="44.9" fill="#000"><text x="0" y="34.5" font-size="34.5">出水接头</text></svg>
<span class="mat" style="left:2122.5px;top:359px;width:330px;height:55px;line-height:55px">HT200</span>
<span class="num" style="left:1612px;top:417px;width:154px;height:54.5px;line-height:54.5px">02</span>
<span class="rt" style="left:1769px;top:417px;width:318.5px;height:54.5px;font-size:34.5px;padding-left:17px">提手</span>
<svg class="cj " role="img" aria-label="提手" style="left:1787.00px;top:422.69px" width="73.0" height="44.9" fill="#000"><text x="0" y="34.5" font-size="34.5">提手</text></svg>
<span class="rt" style="left:2107.5px;top:417px;width:330px;height:54.5px;font-size:34.5px;padding-left:15px">钢</span>
<svg class="cj b" role="img" aria-label="钢" style="left:2123.50px;top:422.69px" width="38.5" height="44.9" fill="#000"><text x="0" y="34.5" font-size="34.5">钢</text></svg>
<span class="num" style="left:1612px;top:474.5px;width:154px;height:55px;line-height:55px">05</span>
<span class="rt" style="left:1769px;top:474.5px;width:318.5px;height:55px;font-size:34.5px;padding-left:17px">顶盖</span>
<svg class="cj " role="img" aria-label="顶盖" style="left:1787.00px;top:480.44px" width="73.0" height="44.9" fill="#000"><text x="0" y="34.5" font-size="34.5">顶盖</text></svg>
<span class="mat" style="left:2122.5px;top:474.5px;width:330px;height:55px;line-height:55px">HT200</span>
<span class="num" style="left:1612px;top:532.5px;width:154px;height:55px;line-height:55px">06</span>
<span class="rt" style="left:1769px;top:532.5px;width:318.5px;height:55px;font-size:34.5px;padding-left:17px">上轴承盖</span>
<svg class="cj " role="img" aria-label="上轴承盖" style="left:1787.00px;top:538.44px" width="142.0" height="44.9" fill="#000"><text x="0" y="34.5" font-size="34.5">上轴承盖</text></svg>
<span class="mat" style="left:2122.5px;top:532.5px;width:330px;height:55px;line-height:55px">HT200</span>
<span class="num" style="left:1612px;top:590.5px;width:154px;height:55px;line-height:55px">07</span>
<span class="rt" style="left:1769px;top:590.5px;width:318.5px;height:55px;font-size:34.5px;padding-left:17px">下轴承座（油缸）</span>
<svg class="cj " role="img" aria-label="下轴承座（油缸）" style="left:1787.00px;top:596.44px" width="280.0" height="44.9" fill="#000"><text x="0" y="34.5" font-size="34.5">下轴承座（油缸）</text></svg>
<span class="mat" style="left:2122.5px;top:590.5px;width:330px;height:55px;line-height:55px">HT200</span>
<span class="num" style="left:1612px;top:648.5px;width:154px;height:55px;line-height:55px">11</span>
<span class="rt" style="left:1769px;top:648.5px;width:318.5px;height:55px;font-size:34.5px;padding-left:17px">电机筒</span>
<svg class="cj " role="img" aria-label="电机筒" style="left:1787.00px;top:654.44px" width="107.5" height="44.9" fill="#000"><text x="0" y="34.5" font-size="34.5">电机筒</text></svg>
<span class="mat" style="left:2122.5px;top:648.5px;width:330px;height:55px;line-height:55px">HT200</span>
<span class="num" style="left:1612px;top:706.5px;width:154px;height:55px;line-height:55px">13</span>
<span class="rt" style="left:1769px;top:706.5px;width:318.5px;height:55px;font-size:34.5px;padding-left:17px">泵体</span>
<svg class="cj " role="img" aria-label="泵体" style="left:1787.00px;top:712.44px" width="73.0" height="44.9" fill="#000"><text x="0" y="34.5" font-size="34.5">泵体</text></svg>
<span class="mat" style="left:2122.5px;top:706.5px;width:330px;height:55px;line-height:55px">HT200</span>
<span class="num" style="left:1612px;top:764.5px;width:154px;height:55.5px;line-height:55.5px">14</span>
<span class="rt" style="left:1769px;top:764.5px;width:318.5px;height:55.5px;font-size:34.5px;padding-left:17px">叶轮</span>
<svg class="cj " role="img" aria-label="叶轮" style="left:1787.00px;top:770.69px" width="73.0" height="44.9" fill="#000"><text x="0" y="34.5" font-size="34.5">叶轮</text></svg>
<span class="mat" style="left:2122.5px;top:764.5px;width:330px;height:55.5px;line-height:55.5px">HT200</span>
<span class="num" style="left:1612px;top:817.5px;width:154px;height:53.5px;line-height:53.5px">16</span>
<span class="rt" style="left:1769px;top:823px;width:318.5px;height:53.5px;font-size:34.5px;padding-left:17px">下泵盖</span>
<svg class="cj " role="img" aria-label="下泵盖" style="left:1785.00px;top:829.19px" width="107.5" height="44.9" fill="#000"><text x="0" y="34.5" font-size="34.5">下泵盖</text></svg>
<span class="mat" style="left:2118.5px;top:817.5px;width:330px;height:53.5px;line-height:53.5px">HT200</span>
<span class="num" style="left:1612px;top:879.5px;width:154px;height:56.5px;line-height:56.5px">22</span>
<span class="rt" style="left:1769px;top:879.5px;width:318.5px;height:56.5px;font-size:34.5px;padding-left:17px">底座</span>
<svg class="cj " role="img" aria-label="底座" style="left:1787.00px;top:886.19px" width="73.0" height="44.9" fill="#000"><text x="0" y="34.5" font-size="34.5">底座</text></svg>
<span class="mat" style="left:2122.5px;top:879.5px;width:330px;height:56.5px;line-height:56.5px">HT200</span>
<span class="num" style="left:1612px;top:939px;width:154px;height:54.5px;line-height:54.5px">27</span>
<span class="rt" style="left:1769px;top:939px;width:318.5px;height:54.5px;font-size:34.5px;padding-left:17px">线圈总成</span>
<svg class="cj " role="img" aria-label="线圈总成" style="left:1787.00px;top:944.69px" width="142.0" height="44.9" fill="#000"><text x="0" y="34.5" font-size="34.5">线圈总成</text></svg>
<span class="num" style="left:1612px;top:996.5px;width:154px;height:55.5px;line-height:55.5px">28</span>
<span class="rt" style="left:1769px;top:996.5px;width:318.5px;height:55.5px;font-size:34.5px;padding-left:17px">转子总成</span>
<svg class="cj " role="img" aria-label="转子总成" style="left:1787.00px;top:1002.69px" width="142.0" height="44.9" fill="#000"><text x="0" y="34.5" font-size="34.5">转子总成</text></svg>
<span class="rt" style="left:2107.5px;top:996.5px;width:330px;height:55.5px;font-size:34.5px;padding-left:15px">(轴: 304不锈钢)</span>
<svg class="cj b" role="img" aria-label="(轴: 304不锈钢)" style="left:2123.50px;top:1002.69px" width="243.6" height="44.9" fill="#000"><text x="0" y="34.5" font-size="34.5">(轴: 304不锈钢)</text></svg>
<span class="num" style="left:1612px;top:1055px;width:154px;height:54.5px;line-height:54.5px">31a</span>
<span class="rt" style="left:1769px;top:1055px;width:318.5px;height:54.5px;font-size:34.5px;padding-left:17px">轴承</span>
<svg class="cj " role="img" aria-label="轴承" style="left:1787.00px;top:1060.69px" width="73.0" height="44.9" fill="#000"><text x="0" y="34.5" font-size="34.5">轴承</text></svg>
<span class="num" style="left:1612px;top:1112.5px;width:154px;height:55px;line-height:55px">31b</span>
<span class="rt" style="left:1769px;top:1112.5px;width:318.5px;height:55px;font-size:34.5px;padding-left:17px">轴承</span>
<svg class="cj " role="img" aria-label="轴承" style="left:1787.00px;top:1118.44px" width="73.0" height="44.9" fill="#000"><text x="0" y="34.5" font-size="34.5">轴承</text></svg>
<span class="num" style="left:1612px;top:1170.5px;width:154px;height:55px;line-height:55px">32</span>
<span class="rt" style="left:1769px;top:1170.5px;width:318.5px;height:55px;font-size:34.5px;padding-left:17px">电容器</span>
<svg class="cj " role="img" aria-label="电容器" style="left:1787.00px;top:1176.44px" width="107.5" height="44.9" fill="#000"><text x="0" y="34.5" font-size="34.5">电容器</text></svg>
<span class="rt" style="left:2107.5px;top:1170.5px;width:330px;height:55px;font-size:34.5px;padding-left:15px">(仅单相)</span>
<svg class="cj b" role="img" aria-label="(仅单相)" style="left:2123.50px;top:1176.44px" width="130.5" height="44.9" fill="#000"><text x="0" y="34.5" font-size="34.5">(仅单相)</text></svg>
<span class="num" style="left:1612px;top:1228.5px;width:154px;height:55px;line-height:55px">33</span>
<span class="rt" style="left:1769px;top:1228.5px;width:318.5px;height:55px;font-size:34.5px;padding-left:17px">热保护器</span>
<svg class="cj " role="img" aria-label="热保护器" style="left:1787.00px;top:1234.44px" width="142.0" height="44.9" fill="#000"><text x="0" y="34.5" font-size="34.5">热保护器</text></svg>
<span class="num" style="left:1612px;top:1286.5px;width:154px;height:55px;line-height:55px">34</span>
<span class="rt" style="left:1769px;top:1286.5px;width:318.5px;height:55px;font-size:34.5px;padding-left:17px">机械密封</span>
<svg class="cj " role="img" aria-label="机械密封" style="left:1787.00px;top:1292.44px" width="142.0" height="44.9" fill="#000"><text x="0" y="34.5" font-size="34.5">机械密封</text></svg>
<span class="rt" style="left:2107.5px;top:1286.5px;width:330px;height:55px;font-size:34.5px;padding-left:15px">碳化硅-陶瓷/陶瓷-石墨</span>
<svg class="cj b" role="img" aria-label="碳化硅-陶瓷/陶瓷-石墨" style="left:2125.00px;top:1293.44px" width="318.7" height="42.9" fill="#000"><text x="0" y="33" font-size="33" textLength="315" lengthAdjust="spacing">碳化硅-陶瓷/陶瓷-石墨</text></svg>
<span class="num" style="left:1612px;top:1344.5px;width:154px;height:55px;line-height:55px">35</span>
<span class="rt" style="left:1769px;top:1344.5px;width:318.5px;height:55px;font-size:34.5px;padding-left:17px">骨架油封</span>
<svg class="cj " role="img" aria-label="骨架油封" style="left:1787.00px;top:1350.44px" width="142.0" height="44.9" fill="#000"><text x="0" y="34.5" font-size="34.5">骨架油封</text></svg>
<span class="num" style="left:1612px;top:1402.5px;width:154px;height:54.5px;line-height:54.5px">47</span>
<span class="rt" style="left:1769px;top:1402.5px;width:318.5px;height:54.5px;font-size:34.5px;padding-left:17px">电缆线</span>
<svg class="cj " role="img" aria-label="电缆线" style="left:1787.00px;top:1408.19px" width="107.5" height="44.9" fill="#000"><text x="0" y="34.5" font-size="34.5">电缆线</text></svg>
</div>
</div></body></html>
